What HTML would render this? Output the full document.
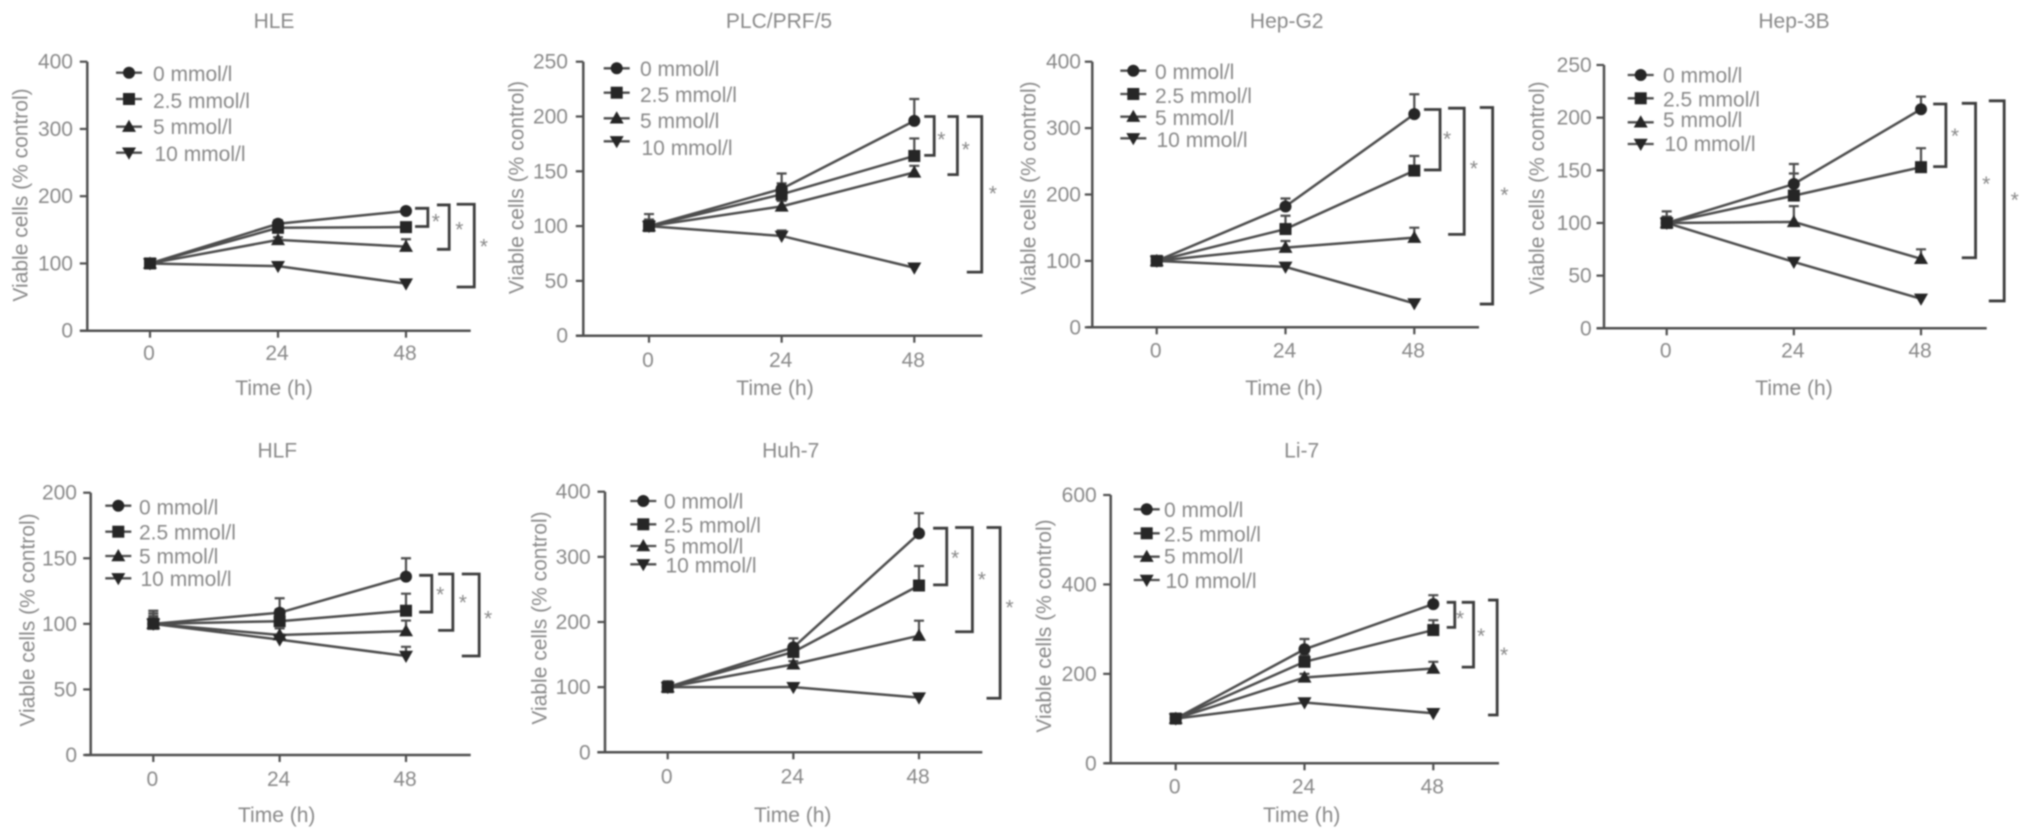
<!DOCTYPE html>
<html lang="en">
<head>
<meta charset="utf-8">
<title>Viable cells by cell line</title>
<style>
html,body{margin:0;padding:0;background:#fff;width:2032px;height:839px;overflow:hidden}
svg{display:block;filter:blur(0.7px)}
text{font-family:"Liberation Sans",sans-serif;font-size:21px;fill:#8a8a8a}
</style>
</head>
<body>
<svg id="chart" xmlns="http://www.w3.org/2000/svg" width="2032" height="839" viewBox="0 0 2032 839"></svg>
<script>
const timePoints = [0, 24, 48];
const seriesNames = ['0 mmol/l', '2.5 mmol/l', '5 mmol/l', '10 mmol/l'];
const seriesKinds = ['circle', 'square', 'up', 'down'];
const drawOrder = [0, 2, 3, 1];

const hleTicks = [0, 100, 200, 300, 400];
const hleMeans = [[100, 159, 178], [100, 153, 154], [100, 135, 125], [100, 96, 70]];
const hleErrors = [[5, 5, 3], [5, 5, 3], [4, 4, 11], [4, 4, 3]];
const hleSpans = [[182, 155], [187, 121], [188, 65]];
const hleBracketHours = [[49.7, 52.1], [53.8, 56.1], [57.5, 60.8]];
const hleStars = [[53.6, 164], [58, 152], [62.6, 127]];

const plcTicks = [0, 50, 100, 150, 200, 250];
const plcMeans = [[100, 134, 196], [100, 129, 164], [100, 118, 149], [100, 91, 62]];
const plcErrors = [[11, 14, 20], [6, 10, 16], [4, 5, 6], [4, 5, 3]];
const plcSpans = [[200, 164.5], [200, 147], [200, 58]];
const plcBracketHours = [[49.8, 51.6], [54, 55.8], [57.5, 60.2]];
const plcStars = [[52.9, 180], [57.3, 171], [62.2, 130.5]];

const hepg2Ticks = [0, 100, 200, 300, 400];
const hepg2Means = [[100, 182, 321], [100, 148, 236], [100, 120, 135], [100, 91, 36]];
const hepg2Errors = [[6, 12, 30], [6, 20, 22], [5, 10, 15], [4, 5, 3]];
const hepg2Spans = [[328, 237], [330, 140], [331, 35]];
const hepg2BracketHours = [[49.8, 52.8], [54.3, 57.3], [60.2, 62.6]];
const hepg2Stars = [[54.1, 285], [59.1, 241], [64.8, 201]];

const hep3bTicks = [0, 50, 100, 150, 200, 250];
const hep3bMeans = [[100, 137, 208], [100, 126, 153], [100, 101, 66], [100, 63, 28]];
const hep3bErrors = [[11, 19, 12], [6, 21, 18], [5, 15, 9], [4, 3, 3]];
const hep3bSpans = [[213, 153.5], [213.6, 67], [216, 26]];
const hep3bBracketHours = [[50.3, 52.7], [55.7, 58.3], [60.8, 63.7]];
const hep3bStars = [[54.4, 183.5], [60.3, 138], [65.7, 123]];

const hlfTicks = [0, 50, 100, 150, 200];
const hlfMeans = [[100, 108.5, 136], [100, 102, 110], [100, 91.5, 94.5], [100, 88, 75.5]];
const hlfErrors = [[10, 11, 14], [8, 9, 13], [6, 5, 8], [5, 4, 7]];
const hlfSpans = [[137, 109], [138, 95], [138, 75.5]];
const hlfBracketHours = [[50.5, 52.9], [54.1, 56.9], [58.6, 61.9]];
const hlfStars = [[54.5, 123], [58.8, 117], [63.6, 105]];

const huhTicks = [0, 100, 200, 300, 400];
const huhMeans = [[100, 161, 336], [100, 154, 256], [100, 135, 179], [100, 100, 84]];
const huhErrors = [[9, 14, 31], [7, 10, 30], [5, 5, 23], [4, 4, 3]];
const huhSpans = [[344, 257], [345, 185], [345, 83]];
const huhBracketHours = [[50.7, 53.3], [54.9, 58.2], [60.9, 63.5]];
const huhStars = [[54.9, 300], [60, 267], [65.3, 223.5]];

const li7Ticks = [0, 200, 400, 600];
const li7Means = [[100, 255, 356], [100, 227, 298], [100, 192, 212], [100, 136, 112]];
const li7Errors = [[6, 23, 20], [6, 15, 22], [5, 8, 15], [4, 5, 4]];
const li7Spans = [[360, 304], [360, 215], [365, 108]];
const li7BracketHours = [[50.5, 52], [53.3, 55.5], [58.2, 59.9]];
const li7Stars = [[53, 326.5], [56.9, 287], [61.2, 244]];

const panels = [
  {slug:'hle', title:'HLE', ticks:hleTicks, means:hleMeans, errors:hleErrors, spans:hleSpans, bh:hleBracketHours, stars:hleStars,
   ax:87.3, ayTop:61.7, ayBot:330.7, axL:80, axR:470.7, x0:150, x48:406, tx:274, ty:21, ytx:20.7, yty:195, xly:353, xtx:274, xty:388, ylr:73,
   lgM:129, lgT:153, lgLine:[72.7,99,126.7,152.7], lgText:[74,101,127,154]},
  {slug:'plc-prf-5', title:'PLC/PRF/5', ticks:plcTicks, means:plcMeans, errors:plcErrors, spans:plcSpans, bh:plcBracketHours, stars:plcStars,
   ax:583.3, ayTop:61.7, ayBot:335.7, axL:576, axR:982.3, x0:649, x48:914.3, tx:779, ty:21, ytx:516.7, yty:187.5, xly:360, xtx:775, xty:388, ylr:568,
   lgM:616.7, lgT:640, lgLine:[68.3,92.7,118.3,141.3], lgText:[69,95,121,148]},
  {slug:'hep-g2', title:'Hep-G2', ticks:hepg2Ticks, means:hepg2Means, errors:hepg2Errors, spans:hepg2Spans, bh:hepg2BracketHours, stars:hepg2Stars,
   ax:1092.3, ayTop:61.7, ayBot:327.3, axL:1087, axR:1479, x0:1156.7, x48:1414.3, tx:1286.7, ty:21, ytx:1028.3, yty:188, xly:350.7, xtx:1284, xty:388, ylr:1081,
   lgM:1133.3, lgT:1155, lgLine:[70.7,94,116.7,138.3], lgText:[72,96,118,140]},
  {slug:'hep-3b', title:'Hep-3B', ticks:hep3bTicks, means:hep3bMeans, errors:hep3bErrors, spans:hep3bSpans, bh:hep3bBracketHours, stars:hep3bStars,
   ax:1604, ayTop:65, ayBot:328.3, axL:1596.7, axR:1986.7, x0:1666.7, x48:1921, tx:1794, ty:21, ytx:1537, yty:188, xly:350.7, xtx:1794, xty:388, ylr:1591.7,
   lgM:1640.7, lgT:1663, lgLine:[75,98.3,122.3,144], lgText:[75.7,99.3,120,144]},
  {slug:'hlf', title:'HLF', ticks:hlfTicks, means:hlfMeans, errors:hlfErrors, spans:hlfSpans, bh:hlfBracketHours, stars:hlfStars,
   ax:90.7, ayTop:492.7, ayBot:755, axL:85, axR:470.7, x0:153.3, x48:406, tx:277.3, ty:450.7, ytx:27.3, yty:620, xly:779, xtx:276.7, xty:815, ylr:77,
   lgM:118.3, lgT:139, lgLine:[505.7,531.7,556,578.3], lgText:[507.3,532.7,556.7,579]},
  {slug:'huh-7', title:'Huh-7', ticks:huhTicks, means:huhMeans, errors:huhErrors, spans:huhSpans, bh:huhBracketHours, stars:huhStars,
   ax:605, ayTop:491.7, ayBot:752.3, axL:597.3, axR:982.3, x0:667.7, x48:919, tx:790.7, ty:450.7, ytx:539.3, yty:618, xly:776.7, xtx:792.7, xty:815, ylr:590.7,
   lgM:643.3, lgT:664, lgLine:[501,524.3,546,564.3], lgText:[501.7,525.7,546.7,565.7]},
  {slug:'li-7', title:'Li-7', ticks:li7Ticks, means:li7Means, errors:li7Errors, spans:li7Spans, bh:li7BracketHours, stars:li7Stars,
   ax:1110.7, ayTop:495, ayBot:763.3, axL:1105, axR:1499, x0:1175.7, x48:1433.3, tx:1301.7, ty:450.7, ytx:1044, yty:626, xly:786.7, xtx:1301.7, xty:815, ylr:1096.7,
   lgM:1146.7, lgT:1164, lgLine:[509.3,533.3,556.7,580], lgText:[510,534.3,556.7,581]}
];

const NS = 'http://www.w3.org/2000/svg';
const root = document.getElementById('chart');
const AXIS = '#505050', LINE = '#4d4d4d', MARK = '#262626';

function make(tag, attrs, parent) {
  const el = document.createElementNS(NS, tag);
  for (const k in attrs) el.setAttribute(k, attrs[k]);
  parent.appendChild(el);
  return el;
}

function drawMarker(kind, x, y, parent) {
  let el;
  if (kind === 'circle') {
    el = make('circle', {cx:x, cy:y, r:6, fill:MARK}, parent);
  } else if (kind === 'square') {
    el = make('rect', {x:x-6, y:y-6, width:12, height:12, fill:MARK}, parent);
  } else if (kind === 'up') {
    el = make('polygon', {points:[x,y-7,x+7,y+5.2,x-7,y+5.2].join(','), fill:MARK}, parent);
  } else {
    el = make('polygon', {points:[x,y+7,x+7,y-5.2,x-7,y-5.2].join(','), fill:MARK}, parent);
  }
  return el;
}

panels.forEach(function (p) {
  const ymax = p.ticks[p.ticks.length - 1];
  const xOf = function (h) { return p.x0 + h * (p.x48 - p.x0) / 48; };
  const yOf = function (v) { return p.ayBot - v * (p.ayBot - p.ayTop) / ymax; };

  const g = make('g', {}, root);
  
  

  const title = make('text', {x:p.tx, y:p.ty + 7, 'text-anchor':'middle'}, g);
  title.textContent = p.title;
  
  

  const yAxis = make('line', {x1:p.ax, x2:p.ax, y1:p.ayTop, y2:p.ayBot + 1, stroke:AXIS, 'stroke-width':2.5}, g);
  
  

  const xAxis = make('line', {x1:p.axL, x2:p.axR, y1:p.ayBot, y2:p.ayBot, stroke:AXIS, 'stroke-width':2.5}, g);
  
  

  p.ticks.forEach(function (t) {
    const tick = make('line', {x1:p.ax - 7.5, x2:p.ax, y1:yOf(t), y2:yOf(t), stroke:AXIS, 'stroke-width':2.2}, g);
    
    
    const label = make('text', {x:p.ylr, y:yOf(t) + 7, 'text-anchor':'end'}, g);
    label.textContent = String(t);
    
    
  });

  timePoints.forEach(function (h) {
    const tick = make('line', {x1:xOf(h), x2:xOf(h), y1:p.ayBot, y2:p.ayBot + 7, stroke:AXIS, 'stroke-width':2.2}, g);
    
    
    const label = make('text', {x:xOf(h) - 1, y:p.xly + 7, 'text-anchor':'middle'}, g);
    label.textContent = String(h);
    
    
  });

  const yTitle = make('text', {transform:'translate(' + (p.ytx + 7) + ' ' + p.yty + ') rotate(-90)', 'text-anchor':'middle'}, g);
  yTitle.textContent = 'Viable cells (% control)';
  
  

  const xTitle = make('text', {x:p.xtx, y:p.xty + 7, 'text-anchor':'middle'}, g);
  xTitle.textContent = 'Time (h)';
  
  

  p.means.forEach(function (vals, s) {
    const line = make('polyline', {
      points: vals.map(function (v, i) { return xOf(timePoints[i]) + ',' + yOf(v); }).join(' '),
      fill:'none', stroke:LINE, 'stroke-width':2.5
    }, g);
    
    

    vals.forEach(function (v, i) {
      const x = xOf(timePoints[i]), top = yOf(v + p.errors[s][i]);
      const stem = make('path', {
        d:'M' + x + ' ' + yOf(v) + 'V' + top + 'M' + (x - 5) + ' ' + top + 'H' + (x + 5),
        fill:'none', stroke:LINE, 'stroke-width':2.2
      }, g);
      
      
    });
  });

  drawOrder.forEach(function (s) {
    p.means[s].forEach(function (v, i) {
      const m = drawMarker(seriesKinds[s], xOf(timePoints[i]), yOf(v), g);
      
      
    });
  });

  p.spans.forEach(function (span, b) {
    const xl = xOf(p.bh[b][0]), xr = xOf(p.bh[b][1]), yt = yOf(span[0]), yb = yOf(span[1]);
    const br = make('path', {
      d:'M' + xl + ' ' + yt + 'H' + xr + 'V' + yb + 'H' + xl,
      fill:'none', stroke:'#3d3d3d', 'stroke-width':2.8
    }, g);
    
    

    const star = make('text', {x:xOf(p.stars[b][0]), y:yOf(p.stars[b][1]) + 8, 'text-anchor':'middle'}, g);
    star.textContent = '*';
    
    
  });

  seriesNames.forEach(function (name, s) {
    const entry = make('g', {}, g);
    
    
    const swatch = make('line', {x1:p.lgM - 13, x2:p.lgM + 13, y1:p.lgLine[s], y2:p.lgLine[s], stroke:LINE, 'stroke-width':2.3}, entry);
    
    
    const mark = drawMarker(seriesKinds[s], p.lgM, p.lgLine[s], entry);
    
    
    const label = make('text', {x:p.lgT + (s === 3 ? 1.5 : 0), y:p.lgText[s] + 7}, entry);
    label.textContent = name;
    
    
  });
});
</script>
</body>
</html>
